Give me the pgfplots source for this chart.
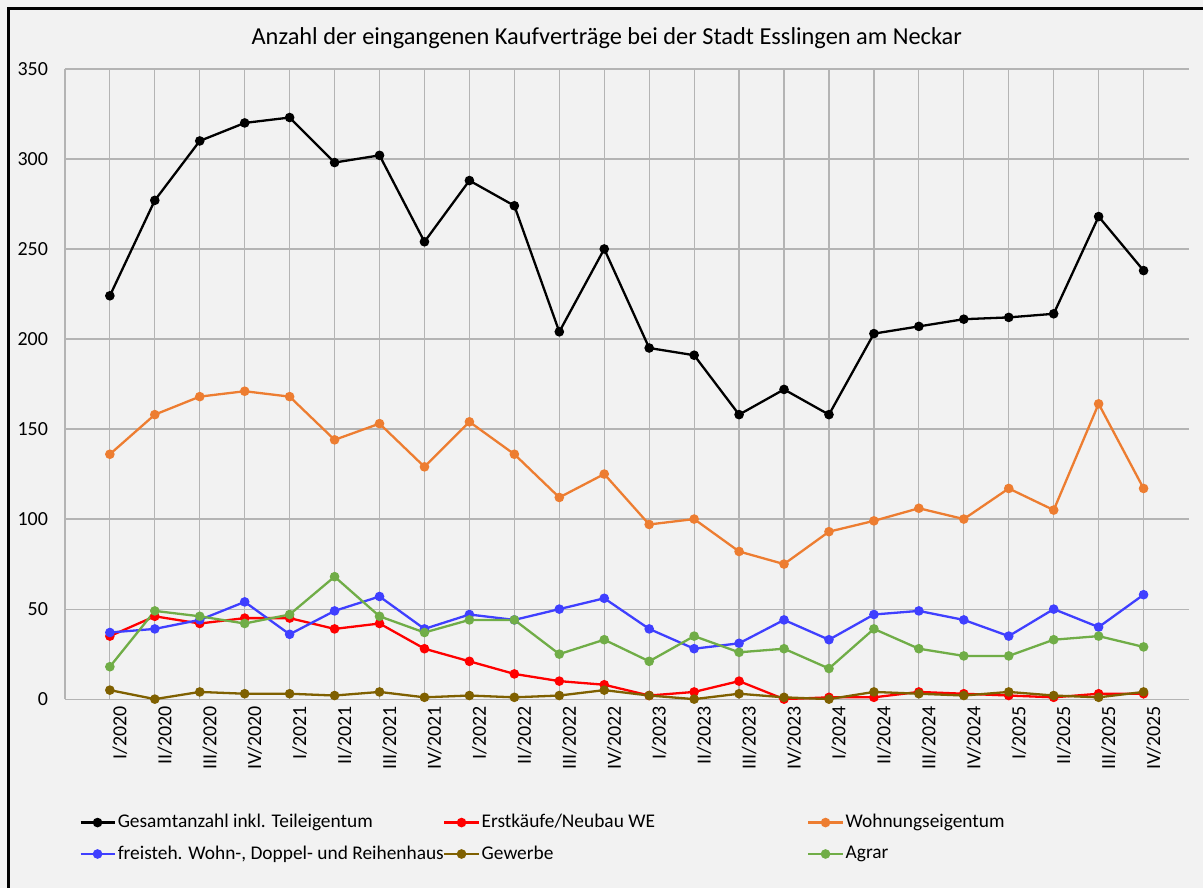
\documentclass[border=0pt]{standalone}
\usepackage{pgfplots}
\pgfplotsset{compat=1.18}
\usepackage{fontspec}
\setmainfont{Carlito}
\definecolor{bg}{HTML}{F2F2F2}
\definecolor{gridc}{HTML}{B4B4B4}
\definecolor{cred}{HTML}{FF0000}
\definecolor{corange}{HTML}{ED7D31}
\definecolor{cblue}{HTML}{3F3FFF}
\definecolor{cbrown}{HTML}{7F6000}
\definecolor{cgreen}{HTML}{70AD47}
\begin{document}
\begin{tikzpicture}[x=0.5pt,y=0.5pt]
\fill[bg] (0,0) rectangle (1204,889);
\draw[black,line width=1.5pt] (9,0) -- (9,880) -- (1204,880);
\node[font=\fontsize{12.2}{14}\selectfont] at (607.5,851) {Anzahl der eingangenen Kaufverträge bei der Stadt Esslingen am Neckar};
\begin{axis}[
  at={(32.5pt,94.5pt)}, anchor=south west,
  scale only axis, width=562.5pt, height=315.5pt,
  xmin=-1, xmax=24, ymin=0, ymax=350,
  xtick={0,...,23},
  xticklabels={I/2020,II/2020,III/2020,IV/2020,I/2021,II/2021,III/2021,IV/2021,I/2022,II/2022,III/2022,IV/2022,I/2023,II/2023,III/2023,IV/2023,I/2024,II/2024,III/2024,IV/2024,I/2025,II/2025,III/2025,IV/2025},
  ytick={0,50,...,350},
  axis x line=bottom, axis y line=left,
  axis line style={draw=gridc,line width=0.6pt,-},
  xmajorgrids, ymajorgrids,
  grid style={gridc,line width=0.6pt},
  major tick length=0pt,
  tick label style={font=\fontsize{10}{11}\selectfont},
  /pgf/number format/assume math mode=true,
  xticklabel style={rotate=90, anchor=east, yshift=-5pt},
  yticklabel style={xshift=-5pt},
  every axis plot/.append style={line width=1.15pt, mark=*, mark size=1.8pt},
  legend columns=3,
  legend cell align=left,
  legend style={at={(0.0125,-0.179)}, anchor=north west, draw=none, fill=none,
    font=\fontsize{9.7}{11}\selectfont, inner sep=0pt, row sep=5.5pt,
    nodes={inner sep=1pt},
    /tikz/every odd column/.append style={column sep=0pt}},
]
\addplot[black, mark options={fill=black}] coordinates {(0,224)(1,277)(2,310)(3,320)(4,323)(5,298)(6,302)(7,254)(8,288)(9,274)(10,204)(11,250)(12,195)(13,191)(14,158)(15,172)(16,158)(17,203)(18,207)(19,211)(20,212)(21,214)(22,268)(23,238)};
\addlegendentry{\makebox[162pt][l]{Gesamtanzahl inkl. Teileigentum}}
\addplot[cred, mark options={fill=cred}] coordinates {(0,35)(1,46)(2,42)(3,45)(4,45)(5,39)(6,42)(7,28)(8,21)(9,14)(10,10)(11,8)(12,2)(13,4)(14,10)(15,0)(16,1)(17,1)(18,4)(19,3)(20,2)(21,1)(22,3)(23,3)};
\addlegendentry{\makebox[162pt][l]{Erstkäufe/Neubau WE}}
\addplot[corange, mark options={fill=corange}] coordinates {(0,136)(1,158)(2,168)(3,171)(4,168)(5,144)(6,153)(7,129)(8,154)(9,136)(10,112)(11,125)(12,97)(13,100)(14,82)(15,75)(16,93)(17,99)(18,106)(19,100)(20,117)(21,105)(22,164)(23,117)};
\addlegendentry{\makebox[162pt][l]{Wohnungseigentum}}
\addplot[cblue, mark options={fill=cblue}] coordinates {(0,37)(1,39)(2,44)(3,54)(4,36)(5,49)(6,57)(7,39)(8,47)(9,44)(10,50)(11,56)(12,39)(13,28)(14,31)(15,44)(16,33)(17,47)(18,49)(19,44)(20,35)(21,50)(22,40)(23,58)};
\addlegendentry{\makebox[162pt][l]{freisteh. Wohn-, Doppel- und Reihenhaus}}
\addplot[cbrown, mark options={fill=cbrown}] coordinates {(0,5)(1,0)(2,4)(3,3)(4,3)(5,2)(6,4)(7,1)(8,2)(9,1)(10,2)(11,5)(12,2)(13,0)(14,3)(15,1)(16,0)(17,4)(18,3)(19,2)(20,4)(21,2)(22,1)(23,4)};
\addlegendentry{\makebox[162pt][l]{Gewerbe}}
\addplot[cgreen, mark options={fill=cgreen}] coordinates {(0,18)(1,49)(2,46)(3,42)(4,47)(5,68)(6,46)(7,37)(8,44)(9,44)(10,25)(11,33)(12,21)(13,35)(14,26)(15,28)(16,17)(17,39)(18,28)(19,24)(20,24)(21,33)(22,35)(23,29)};
\addlegendentry{\makebox[162pt][l]{Agrar}}
\end{axis}
\end{tikzpicture}
\end{document}
